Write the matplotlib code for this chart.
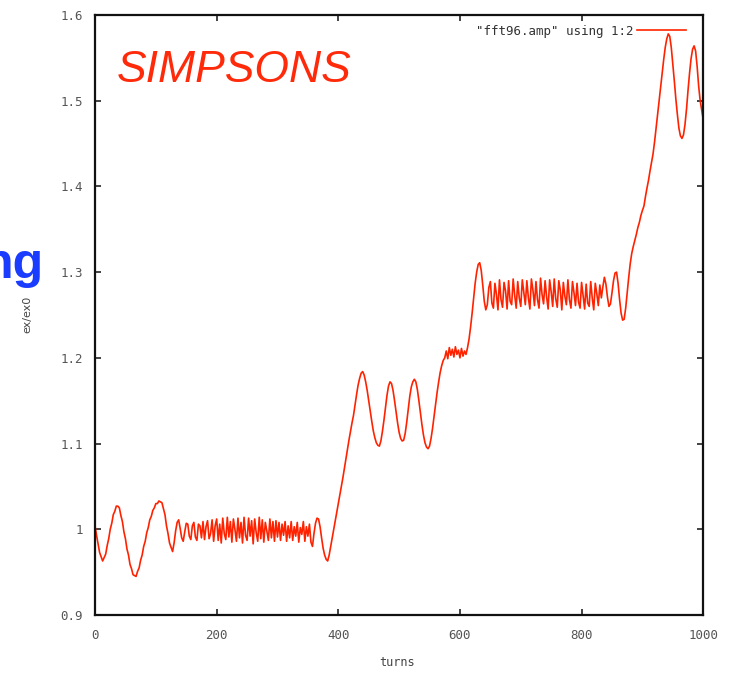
import numpy as np
import matplotlib
matplotlib.use('Agg')
import matplotlib.pyplot as plt

turn_step = 2.5
ex_ratio = [
    # 0 - 47.5
    1.004, 0.993, 0.983, 0.973, 0.968, 0.963, 0.967, 0.971, 0.981, 0.989,
    1.000, 1.007, 1.017, 1.021, 1.027, 1.027, 1.025, 1.016, 1.009, 0.997,
    # 50 - 97.5
    0.989, 0.977, 0.970, 0.959, 0.954, 0.947, 0.946, 0.945, 0.951, 0.955,
    0.964, 0.970, 0.980, 0.986, 0.996, 1.002, 1.011, 1.015, 1.022, 1.025,
    # 100 - 147.5
    1.030, 1.030, 1.033, 1.032, 1.031, 1.024, 1.017, 1.004, 0.995, 0.984,
    0.979, 0.974, 0.984, 0.998, 1.008, 1.011, 1.001, 0.990, 0.986, 0.997,
    # 150 - 197.5
    1.007, 1.006, 0.992, 0.988, 1.004, 1.008, 0.991, 0.987, 1.006, 1.004,
    0.990, 1.009, 0.988, 1.003, 1.010, 0.989, 0.995, 1.011, 0.986, 1.004,
    # 200 - 247.5
    1.012, 0.987, 1.006, 0.984, 1.013, 0.995, 0.988, 1.014, 0.991, 1.009,
    0.985, 1.012, 1.000, 0.986, 1.013, 0.990, 1.008, 0.984, 1.014, 0.993,
    # 250 - 297.5
    0.987, 1.013, 0.992, 1.010, 0.983, 1.012, 0.996, 0.986, 1.014, 0.989,
    1.011, 0.985, 1.008, 0.998, 0.987, 1.012, 0.990, 1.009, 0.986, 1.010,
    # 300 - 347.5
    0.991, 1.008, 0.987, 1.006, 0.993, 1.009, 0.986, 1.004, 0.990, 1.009,
    0.987, 1.003, 0.992, 1.008, 0.985, 1.002, 0.994, 1.009, 0.986, 1.003,
    # 350 - 397.5
    0.992, 1.006, 0.985, 0.980, 0.995, 1.007, 1.013, 1.012, 1.003, 0.990,
    0.978, 0.970, 0.965, 0.963, 0.970, 0.980, 0.990, 1.000, 1.010, 1.020,
    # 400 - 447.5
    1.030, 1.040, 1.050, 1.060, 1.071, 1.082, 1.093, 1.104, 1.114, 1.124,
    1.133, 1.145, 1.157, 1.168, 1.176, 1.182, 1.184, 1.180, 1.172, 1.162,
    # 450 - 497.5
    1.150, 1.138, 1.126, 1.115, 1.107, 1.101, 1.098, 1.097, 1.103, 1.114,
    1.127, 1.142, 1.156, 1.167, 1.172, 1.170, 1.162, 1.150, 1.137, 1.124,
    # 500 - 547.5
    1.113, 1.106, 1.103, 1.104, 1.112, 1.125, 1.140, 1.155, 1.166, 1.172,
    1.175, 1.172, 1.163, 1.150, 1.136, 1.122, 1.110, 1.101, 1.096, 1.094,
    # 550 - 597.5
    1.097, 1.106, 1.118, 1.132, 1.146, 1.160, 1.172, 1.183, 1.191, 1.197,
    1.200, 1.208, 1.199, 1.212, 1.203, 1.210, 1.201, 1.213, 1.204, 1.209,
    # 600 - 647.5
    1.200, 1.211, 1.202, 1.208, 1.204, 1.212, 1.222, 1.236, 1.252, 1.270,
    1.287, 1.300, 1.309, 1.311, 1.302, 1.285, 1.266, 1.256, 1.262, 1.282,
    # 650 - 697.5
    1.289, 1.264, 1.258, 1.287, 1.274, 1.256, 1.291, 1.268, 1.259, 1.288,
    1.278, 1.257, 1.290, 1.266, 1.262, 1.292, 1.273, 1.258, 1.289, 1.270,
    # 700 - 747.5
    1.260, 1.291, 1.276, 1.262, 1.290, 1.270, 1.257, 1.292, 1.279, 1.261,
    1.289, 1.268, 1.258, 1.293, 1.274, 1.263, 1.290, 1.271, 1.257, 1.291,
    # 750 - 797.5
    1.277, 1.260, 1.292, 1.269, 1.259, 1.290, 1.279, 1.256, 1.288, 1.272,
    1.262, 1.291, 1.268, 1.258, 1.289, 1.276, 1.261, 1.287, 1.265, 1.258,
    # 800 - 847.5
    1.288, 1.272, 1.257, 1.286, 1.264, 1.260, 1.289, 1.270, 1.256, 1.287,
    1.275, 1.261, 1.285, 1.270, 1.283, 1.294, 1.286, 1.271, 1.260, 1.263,
    # 850 - 897.5
    1.276, 1.290, 1.299, 1.300, 1.287, 1.268, 1.252, 1.244, 1.245, 1.258,
    1.276, 1.294, 1.310, 1.322, 1.330, 1.337, 1.344, 1.352, 1.358, 1.366,
    # 900 - 947.5
    1.372, 1.377, 1.388, 1.398, 1.407, 1.418, 1.428, 1.438, 1.452, 1.468,
    1.484, 1.500, 1.515, 1.532, 1.548, 1.562, 1.572, 1.578, 1.575, 1.562,
    # 950 - 1000
    1.543, 1.523, 1.502, 1.484, 1.468, 1.459, 1.456, 1.460, 1.472, 1.490,
    1.512, 1.532, 1.549, 1.560, 1.564, 1.558, 1.540, 1.517, 1.500, 1.489,
    1.478,
]
x_ticks = [0, 200, 400, 600, 800, 1000]
y_ticks = [0.9, 1.0, 1.1, 1.2, 1.3, 1.4, 1.5, 1.6]
y_tick_labels = ['0.9', '1', '1.1', '1.2', '1.3', '1.4', '1.5', '1.6']

turns = np.arange(len(ex_ratio)) * turn_step

fig = plt.figure(figsize=(7.31, 6.73), dpi=100)
ax = fig.add_axes([0.130, 0.0862, 0.832, 0.8915])

ax.plot(turns, ex_ratio, color='#ff2200', linewidth=1.2,
        label='"fft96.amp" using 1:2')

ax.set_xlim(0, 1000)
ax.set_ylim(0.9, 1.6)
ax.set_xticks(x_ticks)
ax.set_yticks(y_ticks)
ax.set_yticklabels(y_tick_labels)

tick_font = dict(family='DejaVu Sans Mono', size=9)
for lab in ax.get_xticklabels() + ax.get_yticklabels():
    lab.set_fontfamily('DejaVu Sans Mono')
    lab.set_fontsize(9)
    lab.set_color('#555555')
ax.tick_params(direction='in', length=4, width=1.2, top=True, right=True,
               color='#222222')
ax.tick_params(axis='y', pad=9)
ax.tick_params(axis='x', pad=10)
for sp in ax.spines.values():
    sp.set_linewidth(1.6)
    sp.set_color('#111111')

leg = ax.legend(loc='center right', bbox_to_anchor=(0.972, 0.973),
                frameon=False, markerfirst=False, handlelength=3.9,
                handletextpad=0.35, borderpad=0, borderaxespad=0,
                prop={'family': 'DejaVu Sans Mono', 'size': 9})
for txt in leg.get_texts():
    txt.set_color('#333333')

fig.text(397 / 731, 1 - 663 / 673, 'turns', ha='center', va='center',
         fontsize=8.5, color='#444444', family='DejaVu Sans Mono')
fig.text(27 / 731, 1 - 314 / 673, 'ex/ex0', ha='center', va='center',
         rotation=90, fontsize=8, color='#444444', family='DejaVu Sans')

fig.text(117 / 731, 1 - 82 / 673, 'SIMPSONS', ha='left', va='baseline',
         fontsize=32, style='italic', color='#ff2a0a',
         family='Liberation Sans')
fig.text(44 / 731, 1 - 278 / 673, 'ng', ha='right', va='baseline',
         fontsize=36, weight='bold', color='#1a3cff',
         family='Liberation Sans')

fig.savefig('out.png', dpi=100)
